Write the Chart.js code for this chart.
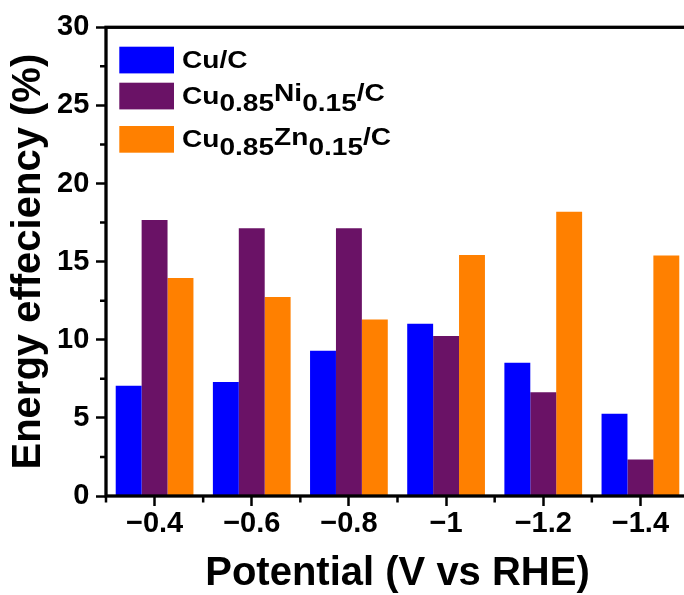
<!DOCTYPE html>
<html>
<head>
<meta charset="utf-8">
<title>Energy efficiency vs potential</title>
<script src="https://cdn.jsdelivr.net/npm/chart.js@4.4.0/dist/chart.umd.min.js"></script>
<style>
    html, body { margin: 0; padding: 0; background: #fff; overflow: hidden; }
    #wrap { width: 684px; height: 595px; overflow: hidden; }
</style>
</head>
<body>
<div id="wrap"><canvas id="effChart" width="700" height="595"></canvas></div>
<script>
// Potentials (V vs RHE) and energy efficiency (%) per catalyst
const potentials = ['\u22120.4', '\u22120.6', '\u22120.8', '\u22121', '\u22121.2', '\u22121.4'];
const cuC   = [7.06, 7.30, 9.30, 11.03, 8.53, 5.27];
const cuNiC = [17.67, 17.13, 17.13, 10.24, 6.64, 2.33];
const cuZnC = [13.95, 12.74, 11.29, 15.43, 18.20, 15.40];

const seriesNames = ['Cu/C', 'Cu0.85Ni0.15/C', 'Cu0.85Zn0.15/C'];
const seriesColors = ['#0000ff', '#6a1266', '#ff8000'];

// Legend text split into pieces: 0 = normal, 1 = lowered, -1 = raised
const legendParts = [
    [['Cu/C', 0]],
    [['Cu', 0], ['0.85', 1], ['Ni', -1], ['0.15', 1], ['/C', -1]],
    [['Cu', 0], ['0.85', 1], ['Zn', -1], ['0.15', 1], ['/C', -1]]
];

const yMin = 0;
const yMax = 30;
const yStep = 5;

const FONT = '"Liberation Sans", Arial, Helvetica, sans-serif';

// Box around the plot plus the short unlabelled ticks
const frameAndMinorTicks = {
    id: 'frameAndMinorTicks',
    afterDatasetsDraw(chart) {
        const { ctx, chartArea: a, scales: { x, y } } = chart;
        ctx.save();
        ctx.strokeStyle = '#000';
        ctx.lineWidth = 2.5;
        ctx.beginPath();
        for (let v = yMin + yStep / 2; v < yMax; v += yStep) {
            const py = y.getPixelForValue(v);
            ctx.moveTo(a.left, py);
            ctx.lineTo(a.left - 6, py);
        }
        for (let i = 0; i <= potentials.length; i++) {
            const px = x.getPixelForValue(i - 0.5);
            ctx.moveTo(px, a.bottom);
            ctx.lineTo(px, a.bottom + 6.5);
        }
        ctx.stroke();
        ctx.lineWidth = 3.3;
        ctx.strokeRect(a.left, a.top, a.right - a.left, a.bottom - a.top);
        ctx.restore();
    }
};

// Legend with sub/superscript pieces, drawn inside the plot area
const formulaLegend = {
    id: 'formulaLegend',
    afterDraw(chart) {
        const { ctx, chartArea: a } = chart;
        const rowTops = [19.4, 55.4, 98.7];
        ctx.save();
        chart.data.datasets.forEach((ds, i) => {
            const top = a.top + rowTops[i];
            ctx.fillStyle = ds.backgroundColor;
            ctx.fillRect(a.left + 13.3, top, 54.7, 26.7);

            ctx.save();
            ctx.translate(a.left + 76, top + 21.3);
            ctx.scale(1.17, 1);
            ctx.fillStyle = '#000';
            ctx.font = 'bold 24px ' + FONT;
            ctx.textBaseline = 'alphabetic';
            let cx = 0;
            legendParts[i].forEach(([txt, shift]) => {
                const dy = shift > 0 ? 7.4 : (shift < 0 ? -2.7 : 0);
                ctx.fillText(txt, cx, dy);
                cx += ctx.measureText(txt).width;
            });
            ctx.restore();
        });
        ctx.restore();
    }
};

const tickFont = { family: FONT, size: 29, weight: 'bold' };
const titleFont = { family: FONT, size: 40, weight: 'bold' };
const tickMarks = {
    display: true,
    drawOnChartArea: false,
    drawTicks: true,
    tickLength: 10,
    tickWidth: 2.5,
    tickColor: '#000'
};

const ctx = document.getElementById('effChart').getContext('2d');
new Chart(ctx, {
    type: 'bar',
    data: {
        labels: potentials,
        datasets: [cuC, cuNiC, cuZnC].map((values, i) => ({
            label: seriesNames[i],
            data: values,
            backgroundColor: seriesColors[i],
            borderWidth: 0,
            barPercentage: 1,
            categoryPercentage: 0.8
        }))
    },
    options: {
        responsive: false,
        devicePixelRatio: 1,
        animation: false,
        layout: { padding: { top: 27.3, right: 11, bottom: 0, left: 0 } },
        plugins: {
            legend: { display: false },
            tooltip: { enabled: false }
        },
        scales: {
            x: {
                offset: true,
                grid: Object.assign({ offset: false }, tickMarks),
                border: { display: false },
                ticks: {
                    color: '#000',
                    font: tickFont,
                    padding: 0.6,
                    maxRotation: 0,
                    autoSkip: false
                },
                title: {
                    display: true,
                    text: 'Potential (V vs RHE)',
                    color: '#000',
                    font: Object.assign({ lineHeight: 1 }, titleFont),
                    padding: { top: 0, bottom: 1 }
                },
                afterFit(scale) { scale.height = 99; }
            },
            y: {
                min: yMin,
                max: yMax,
                grid: tickMarks,
                border: { display: false },
                ticks: {
                    stepSize: yStep,
                    color: '#000',
                    font: tickFont,
                    padding: 6.7
                },
                title: {
                    display: true,
                    text: 'Energy effeciency (%)',
                    color: '#000',
                    font: titleFont,
                    padding: { top: 5, bottom: 0 }
                },
                afterFit(scale) { scale.width = 106; }
            }
        }
    },
    plugins: [frameAndMinorTicks, formulaLegend]
});
</script>
</body>
</html>
